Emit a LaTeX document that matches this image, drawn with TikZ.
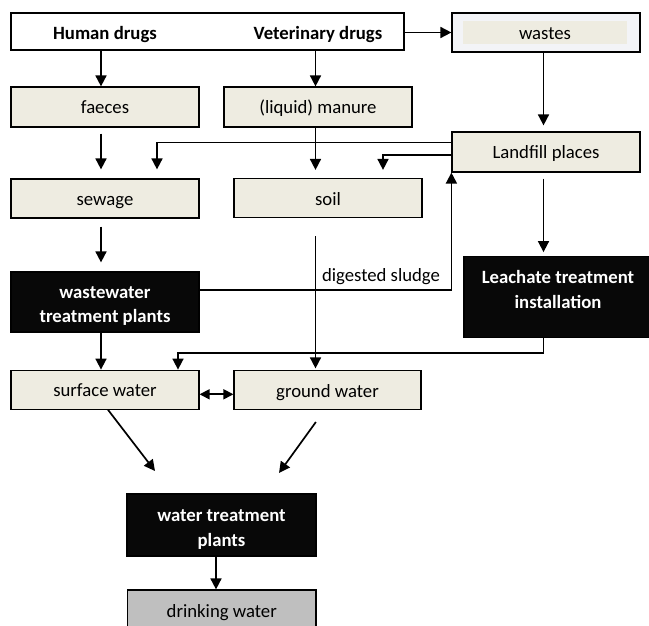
\documentclass[tikz,border=0pt]{standalone}
\usepackage{fontspec}
\setmainfont{Carlito}
\usetikzlibrary{arrows.meta}
\definecolor{boxfill}{HTML}{EEECE1}
\definecolor{wastefill}{HTML}{F3F4F7}
\definecolor{drinkfill}{HTML}{BFBFBF}
\definecolor{darkfill}{HTML}{080808}
\begin{document}
\begin{tikzpicture}[x=1bp,y=-1bp,
  every node/.style={font=\fontsize{18.8}{23}\selectfont, inner sep=0pt},
  box/.style={draw=black, line width=1.2bp, fill=boxfill, minimum height=40bp,
    text height=14bp, text depth=0bp},
  darkbox/.style={draw=black, line width=1.2bp, fill=darkfill},
  whitetext/.style={text=white, anchor=base, font=\fontsize{18.8}{23}\selectfont\bfseries},
  boldtext/.style={anchor=base, font=\fontsize{18.8}{23}\selectfont\bfseries},
  arr/.style={line width=1.7bp, -{Triangle[length=11bp,width=11bp]}},
  dblarr/.style={line width=1.7bp, {Triangle[length=10bp,width=10bp]}-{Triangle[length=10bp,width=10bp]}}]
\useasboundingbox (0,0) rectangle (649,626);
% helper coordinates for connector columns and rows
\coordinate (xA) at (101,0);
\coordinate (xB) at (315.5,0);
\coordinate (xC) at (543.5,0);
\coordinate (xD) at (157,0);
\coordinate (xE) at (383,0);
\coordinate (xG) at (178,0);
\coordinate (xH) at (216,0);
\coordinate (xS) at (108,0);
\coordinate (xT) at (324.5,0);
\coordinate (yL1) at (0,142.5);
\coordinate (yL2) at (0,155);
\coordinate (yW) at (0,290);
\coordinate (yLe) at (0,352.7);
\coordinate (yDA) at (0,394.3);
% nodes
\node[draw, line width=1.2bp, fill=white, minimum width=393bp, minimum height=37bp] (top) at (207.5,31.5) {};
\node[boldtext] (hd) at (105,39.5) {Human drugs};
\node[boldtext] (vd) at (318,39.5) {Veterinary drugs};
\node[draw, line width=1.2bp, fill=wastefill, minimum width=188bp, minimum height=39bp] (wastes) at (546,32.5) {};
\node[fill=boxfill, minimum width=164bp, minimum height=23bp, text height=14bp, text depth=0bp] (wastesin) at (545,32.5) {wastes};
\node[box, minimum width=188bp] (faeces) at (105,107) {faeces};
\node[box, minimum width=188bp] (manure) at (318,107) {(liquid) manure};
\node[box, minimum width=188bp] (landfill) at (546,152) {Landfill places};
\node[box, minimum width=188bp, minimum height=39bp] (sewage) at (105,198.5) {sewage};
\node[box, minimum width=188bp, minimum height=39bp] (soil) at (328,198) {soil};
\node[darkbox, minimum width=188bp, minimum height=60bp] (wwtp) at (105,302) {};
\node[whitetext] (wwtp1) at (105,298.3) {wastewater};
\node[whitetext] (wwtp2) at (105,322.3) {treatment plants};
\node[darkbox, minimum width=187bp, minimum height=80.6bp] (leach) at (557.5,297) {};
\node[whitetext] (leach1) at (558,283.3) {Leachate treatment};
\node[whitetext] (leach2) at (558,308.3) {installation};
\node[box, minimum width=188bp, minimum height=39bp] (surface) at (105,389.7) {surface water};
\node[box, minimum width=187bp, minimum height=39bp] (ground) at (327.5,390) {ground water};
\node[darkbox, minimum width=189bp, minimum height=62bp] (wtp) at (221.5,525) {};
\node[whitetext] (wtp1) at (221.5,521) {water treatment};
\node[whitetext] (wtp2) at (221.5,546) {plants};
\node[box, fill=drinkfill, minimum width=188.5bp, minimum height=40bp] (drink) at (221.75,610) {drinking water};
\node[anchor=base] (sludge) at (381,281.7) {digested sludge};
% free ends
\coordinate (t1) at (155,471);
\coordinate (t2) at (279,473);
% connectors
\draw[arr] (top.south -| xA) -- (faeces.north -| xA);
\draw[arr] (top.south -| xB) -- (manure.north -| xB);
\draw[arr] (top.east |- wastes.west) -- (wastes.west);
\draw[arr, shorten >=6bp] (wastes.south -| xC) -- (landfill.north -| xC);
\draw[arr, shorten <=6bp, shorten >=9bp] (faeces.south -| xA) -- (sewage.north -| xA);
\draw[arr, shorten >=8bp] (manure.south -| xB) -- (soil.north -| xB);
\draw[arr, shorten >=9bp] (landfill.west |- yL1) -| (sewage.north -| xD);
\draw[arr, shorten >=8bp] (landfill.west |- yL2) -| (soil.north -| xE);
\draw[arr, shorten <=8bp, shorten >=9bp] (sewage.south -| xA) -- (wwtp.north -| xA);
\draw[arr, shorten <=18bp, shorten >=1.5bp] (soil.south -| xB) -- (ground.north -| xB);
\draw[arr] (wwtp.east |- yW) -| (landfill.south west);
\draw[arr, shorten <=6bp, shorten >=4bp] (landfill.south -| xC) -- (leach.north -| xC);
\draw[arr] (leach.south -| xC) -- (xC |- yLe) -| (surface.north -| xG);
\draw[arr] (wwtp.south -| xA) -- (surface.north -| xA);
\draw[dblarr] (surface.east |- yDA) -- (ground.west |- yDA);
\draw[arr] (surface.south -| xS) -- (t1);
\draw[arr, shorten <=14.7bp] (ground.south -| xT) -- (t2);
\draw[arr] (wtp.south -| xH) -- (drink.north -| xH);
\end{tikzpicture}
\end{document}
